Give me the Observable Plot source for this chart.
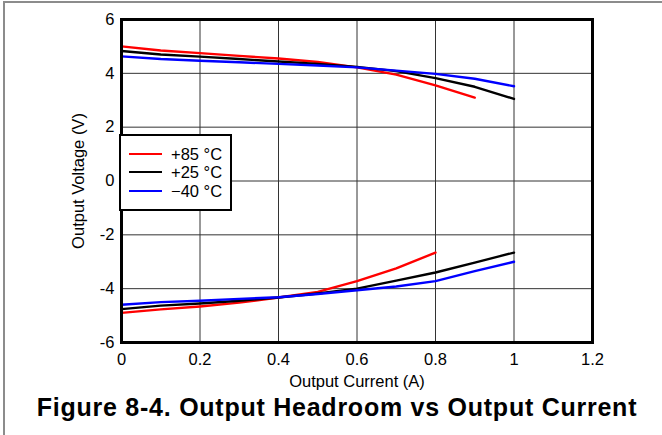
<!DOCTYPE html>
<html>
<head>
<meta charset="utf-8">
<script src="https://cdn.jsdelivr.net/npm/d3@7"></script>
<script src="https://cdn.jsdelivr.net/npm/@observablehq/plot@0.6"></script>
<style>
  html, body { margin: 0; padding: 0; background: #fff; }
  body { width: 662px; height: 435px; position: relative; overflow: hidden; font-family: "Liberation Sans", Arial, sans-serif; }
  #frameline { position: absolute; left: 3px; top: 1px; width: 662px; height: 440px; border-left: 2px solid #8c8c8c; border-top: 2px solid #8c8c8c; box-sizing: border-box; pointer-events: none; }
  #chart { position: absolute; left: 0; top: 0; }
  #title { position: absolute; left: 0; top: 395px; width: 674px; text-align: center; font-weight: bold; font-size: 25px; letter-spacing: 0.75px; line-height: 25px; color: #000; white-space: nowrap; }
  #legend { position: absolute; left: 119px; top: 134px; width: 113px; height: 77px; border: 2px solid #000; box-sizing: border-box; background: #fff; }
  .lg-row { position: absolute; left: 0; height: 18px; font-size: 16.5px; line-height: 18px; }
  .lg-row .sw { position: absolute; left: 8px; top: 8px; width: 33px; height: 0; border-top: 2.5px solid; }
  .lg-row .tx { position: absolute; left: 50px; top: 0; white-space: nowrap; }
</style>
</head>
<body>
<div id="chart"></div>
<div id="legend"></div>
<div id="title">Figure 8-4. Output Headroom vs Output Current</div>
<div id="frameline"></div>
<script>
// ---- data ----
const currentA = [0, 0.1, 0.2, 0.3, 0.4, 0.5, 0.6, 0.7, 0.8, 0.9, 1.0];

const seriesNames = ["+85 °C", "+25 °C", "\u221240 °C"];
const seriesColors = ["#ff0000", "#000000", "#0000ff"];

// upper (positive swing) branch
const upper85 = [5.00, 4.85, 4.75, 4.65, 4.55, 4.42, 4.22, 3.95, 3.55, 3.10];
const upper25 = [4.83, 4.70, 4.62, 4.53, 4.44, 4.35, 4.24, 4.08, 3.82, 3.50, 3.05];
const upperM40 = [4.63, 4.53, 4.47, 4.41, 4.35, 4.29, 4.22, 4.10, 3.98, 3.80, 3.52];

// lower (negative swing) branch
const lower85 = [-4.90, -4.77, -4.66, -4.52, -4.33, -4.12, -3.72, -3.25, -2.66];
const lower25 = [-4.76, -4.63, -4.55, -4.45, -4.33, -4.18, -4.00, -3.70, -3.40, -3.03, -2.66];
const lowerM40 = [-4.60, -4.50, -4.45, -4.38, -4.32, -4.20, -4.06, -3.92, -3.72, -3.35, -3.00];

const xTicks = [0, 0.2, 0.4, 0.6, 0.8, 1, 1.2];
const yTicks = [-6, -4, -2, 0, 2, 4, 6];

// ---- build table ----
const branches = [
  [upper85, lower85],
  [upper25, lower25],
  [upperM40, lowerM40]
];
const rows = [];
branches.forEach((pair, si) => {
  pair.forEach((vals, bi) => {
    vals.forEach((v, i) => rows.push({series: seriesNames[si], key: si + "-" + bi, x: currentA[i], y: v}));
  });
});

const font = "'Liberation Sans', Arial, sans-serif";
const chart = Plot.plot({
  width: 662,
  height: 395,
  marginLeft: 121,
  marginRight: 70,
  marginTop: 19,
  marginBottom: 53,
  style: {fontFamily: font, fontSize: "17px", color: "#000", background: "transparent"},
  x: {domain: [0, 1.2]},
  y: {domain: [-6, 6]},
  color: {domain: seriesNames, range: seriesColors},
  marks: [
    Plot.gridX(xTicks, {stroke: "#333", strokeOpacity: 1, strokeWidth: 1}),
    Plot.gridY(yTicks, {stroke: "#333", strokeOpacity: 1, strokeWidth: 1}),
    Plot.axisX(xTicks, {tickSize: 0, tickPadding: 11, tickFormat: d => String(d), fontSize: 16.5, label: "Output Current (A)", labelAnchor: "center", labelOffset: 44, labelArrow: "none"}),
    Plot.axisY(yTicks, {tickSize: 0, tickPadding: 7, tickFormat: d => String(d), fontSize: 16.5, label: "Output Voltage (V)", labelAnchor: "center", labelOffset: 49, labelArrow: "none"}),
    Plot.line(rows, {x: "x", y: "y", z: "key", stroke: "series", strokeWidth: 2.4, curve: "linear"}),
    Plot.frame({stroke: "#000", strokeWidth: 3})
  ]
});
document.getElementById("chart").appendChild(chart);

// ---- legend ----
const legend = document.getElementById("legend");
const tops = [9, 27, 46];
seriesNames.forEach((name, i) => {
  const row = document.createElement("div");
  row.className = "lg-row";
  row.style.top = tops[i] + "px";
  row.innerHTML = `<span class="sw" style="border-color:${seriesColors[i]}"></span><span class="tx">${name}</span>`;
  legend.appendChild(row);
});
</script>
</body>
</html>
